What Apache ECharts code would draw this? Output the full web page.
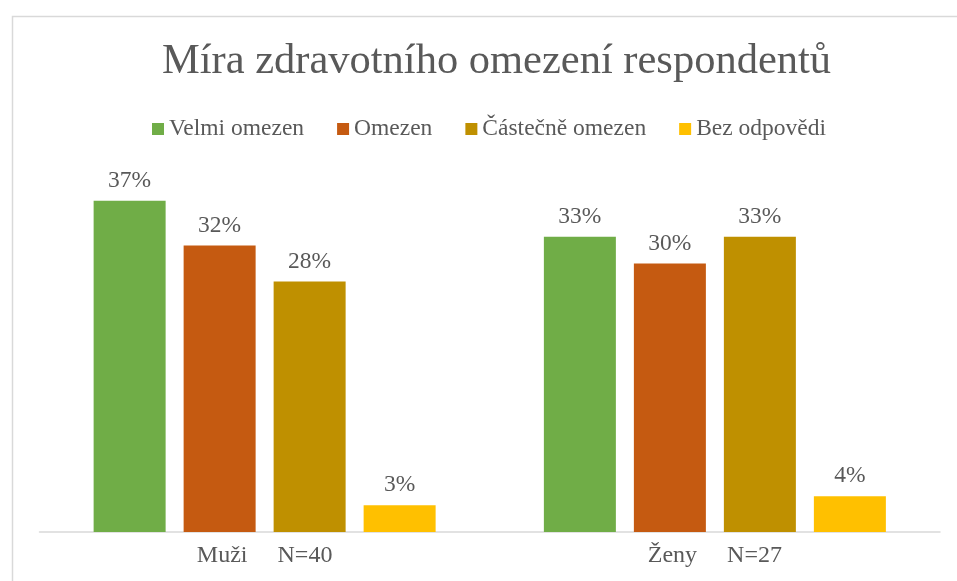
<!DOCTYPE html>
<html>
<head>
<meta charset="utf-8">
<script src="https://cdn.jsdelivr.net/npm/echarts@6/dist/echarts.min.js"></script>
<style>
  html, body { margin: 0; padding: 0; background: #fff; }
  #chart { width: 957px; height: 581px; }
</style>
</head>
<body>
<div id="chart"></div>
<script>
// kategorie a hodnoty (v %)
const categories = ["Muži     N=40", "Ženy     N=27"];
const seriesNames = ["Velmi omezen", "Omezen", "Částečně omezen", "Bez odpovědi"];
const velmiOmezen = [37, 33];
const omezen = [32, 30];
const castecneOmezen = [28, 33];
const bezOdpovedi = [3, 4];
const colors = ["#70AD47", "#C55A11", "#BF9000", "#FFC000"];

const textColor = "#595959";
const font = "'Liberation Serif', 'DejaVu Serif', serif";

const myChart = echarts.init(document.getElementById("chart"));

const values = [velmiOmezen, omezen, castecneOmezen, bezOdpovedi];
const series = seriesNames.map((name, i) => ({
  name: name,
  type: "bar",
  data: values[i],
  barWidth: 72,
  barGap: "25%",
  itemStyle: { color: colors[i] },
  label: {
    show: true,
    position: "top",
    distance: 8,
    formatter: "{c}%",
    color: textColor,
    fontFamily: font,
    fontSize: 23.5,
  },
}));

let option = {
  backgroundColor: "#fff",
  animation: false,
  textStyle: { fontFamily: font },
  title: {
    text: "Míra zdravotního omezení respondentů",
    left: 491.5,
    textAlign: "center",
    top: 35,
    textStyle: {
      fontFamily: font,
      color: textColor,
      fontSize: 42.5,
      fontWeight: "normal",
    },
  },
  legend: {
    data: seriesNames,
    top: 112,
    left: 147,
    itemWidth: 12,
    itemHeight: 12,
    itemGap: 33,
    icon: "rect",
    textStyle: {
      fontFamily: font,
      color: textColor,
      fontSize: 23.5,
    },
  },
  graphic: [
    {
      type: "rect",
      left: 10,
      top: 14,
      shape: { width: 1000, height: 700 },
      style: { fill: null, stroke: "#d9d9d9", lineWidth: 1.5 },
      silent: true,
    },
  ],
  grid: {
    left: 39.5,
    right: 17,
    top: 174,
    bottom: 49,
  },
  xAxis: {
    type: "category",
    data: categories,
    axisLine: { show: true, lineStyle: { color: "#d9d9d9", width: 1.5 } },
    axisTick: { show: false },
    axisLabel: {
      color: textColor,
      fontFamily: font,
      fontSize: 24,
      margin: 12,
    },
  },
  yAxis: {
    type: "value",
    min: 0,
    max: 40,
    show: false,
    splitLine: { show: false },
  },
  series: series,
};

option && myChart.setOption(option);
window.addEventListener("resize", () => {
  myChart.resize();
});
</script>
</body>
</html>
